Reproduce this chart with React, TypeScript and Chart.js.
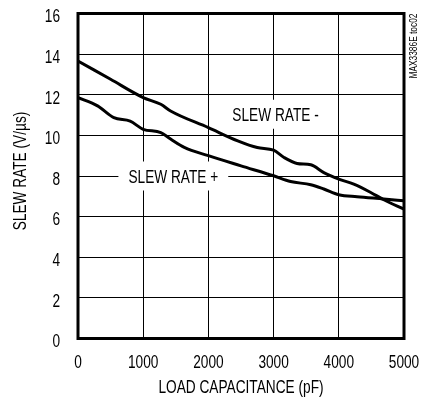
import React, { useEffect, useRef } from "react";
import { Chart, registerables } from "chart.js";

Chart.register(...registerables);

const FONT = '"Liberation Sans", Arial, sans-serif';
const SX = 0.76; // horizontal condensing of the text face

// Axis ticks
const xTicks = [0, 1000, 2000, 3000, 4000, 5000];
const yTicks = [0, 2, 4, 6, 8, 10, 12, 14, 16];

// SLEW RATE - (V/us) vs load capacitance (pF)
const slewMinusCap = [0, 500, 1000, 1270, 1420, 2000, 2450, 2750, 3000, 3160, 3360, 3570, 3770, 4000, 4230, 4490, 4690, 5000];
const slewMinusRate = [13.66, 12.76, 11.86, 11.53, 11.2, 10.38, 9.73, 9.4, 9.27, 8.91, 8.62, 8.55, 8.17, 7.85, 7.6, 7.19, 6.83, 6.37];

// SLEW RATE + (V/us) vs load capacitance (pF)
const slewPlusCap = [0, 300, 550, 800, 1000, 1270, 1420, 1630, 2000, 2500, 3000, 3260, 3570, 3770, 4000, 4280, 4690, 5000];
const slewPlusRate = [11.86, 11.45, 10.87, 10.7, 10.3, 10.14, 9.82, 9.41, 9.0, 8.5, 8.01, 7.73, 7.57, 7.36, 7.08, 6.98, 6.87, 6.78];

// In-plot series labels (anchored in data units)
const seriesLabels = ["SLEW RATE -", "SLEW RATE +"];
const labelCap = [3030, 1462];
const labelRate = [11.04, 8.0];

const xTitle = "LOAD CAPACITANCE (pF)";
const yTitle = "SLEW RATE (V/\u00B5s)";
const sideNote = "MAX3386E toc02";

function drawText(
  ctx: CanvasRenderingContext2D,
  text: string,
  x: number,
  y: number,
  align: CanvasTextAlign,
  size: number,
  rotated = false
) {
  ctx.save();
  ctx.translate(x, y);
  if (rotated) ctx.rotate(-Math.PI / 2);
  ctx.scale(SX, 1);
  ctx.font = `${size}px ${FONT}`;
  ctx.fillStyle = "#000";
  ctx.textAlign = align;
  ctx.textBaseline = "alphabetic";
  ctx.fillText(text, 0, 0);
  ctx.restore();
}

const overlayPlugin = {
  id: "overlay",
  beforeDatasetsDraw(chart: any) {
    const { ctx, scales } = chart;
    const x = scales.x;
    const y = scales.y;
    ctx.save();
    ctx.font = `18px ${FONT}`;
    seriesLabels.forEach((t, i) => {
      const cx = x.getPixelForValue(labelCap[i]);
      const cy = y.getPixelForValue(labelRate[i]);
      const w = ctx.measureText(t).width * SX + 20;
      const h = 29;
      ctx.fillStyle = "#fff";
      ctx.fillRect(cx - w / 2, cy - h / 2, w, h);
      drawText(ctx, t, cx, cy + 6.6, "center", 18);
    });
    ctx.restore();
  },
  afterDatasetsDraw(chart: any) {
    const { ctx, chartArea, scales } = chart;
    const { left, top, right, bottom } = chartArea;
    ctx.save();
    ctx.strokeStyle = "#000";
    ctx.lineWidth = 3;
    ctx.strokeRect(left, top, right - left, bottom - top);
    ctx.restore();

    // tick labels
    xTicks.forEach((v) => {
      drawText(ctx, String(v), scales.x.getPixelForValue(v), 368, "center", 18);
    });
    yTicks.forEach((v) => {
      drawText(ctx, String(v), 60, scales.y.getPixelForValue(v) + 8.8, "right", 18);
    });

    // axis titles
    drawText(ctx, xTitle, (left + right) / 2, 393.3, "center", 18);
    drawText(ctx, yTitle, 25.5, 171, "center", 18, true);

    // side note
    drawText(ctx, sideNote, 416.5, top, "right", 11, true);
  },
};

export default function App() {
  const ref = useRef<HTMLCanvasElement>(null);

  useEffect(() => {
    const canvas = ref.current;
    if (!canvas) return;
    const lineStyle = {
      borderColor: "#000",
      borderWidth: 3,
      pointRadius: 0,
      cubicInterpolationMode: "monotone" as const,
      fill: false,
      borderJoinStyle: "round" as const,
      borderCapStyle: "round" as const,
    };
    const zeroPad = (s: any) => {
      s.paddingLeft = 0;
      s.paddingRight = 0;
      s.paddingTop = 0;
      s.paddingBottom = 0;
    };
    const chart = new Chart(canvas, {
      type: "line",
      data: {
        datasets: [
          {
            label: seriesLabels[0],
            data: slewMinusCap.map((c, i) => ({ x: c, y: slewMinusRate[i] })),
            ...lineStyle,
          },
          {
            label: seriesLabels[1],
            data: slewPlusCap.map((c, i) => ({ x: c, y: slewPlusRate[i] })),
            ...lineStyle,
          },
        ],
      },
      options: {
        responsive: false,
        animation: false,
        devicePixelRatio: 1,
        layout: { padding: { left: 0, right: 18, top: 13.5, bottom: 0 } },
        plugins: { legend: { display: false }, tooltip: { enabled: false } },
        scales: {
          x: {
            type: "linear",
            min: 0,
            max: 5000,
            afterBuildTicks: (s: any) => {
              s.ticks = xTicks.map((v) => ({ value: v }));
            },
            afterFit: (s: any) => {
              s.height = 62.5;
              zeroPad(s);
            },
            grid: { color: "#000", lineWidth: 1, drawTicks: false },
            border: { display: false },
            ticks: { display: false },
          },
          y: {
            type: "linear",
            min: 0,
            max: 16,
            afterBuildTicks: (s: any) => {
              s.ticks = yTicks.map((v) => ({ value: v }));
            },
            afterFit: (s: any) => {
              s.width = 78;
              zeroPad(s);
            },
            grid: { color: "#000", lineWidth: 1, drawTicks: false },
            border: { display: false },
            ticks: { display: false },
          },
        },
      },
      plugins: [overlayPlugin],
    });
    return () => chart.destroy();
  }, []);

  return (
    <div style={{ position: "absolute", left: 0, top: 0, width: 422, height: 401 }}>
      <canvas ref={ref} width={422} height={401} style={{ display: "block" }} />
    </div>
  );
}
